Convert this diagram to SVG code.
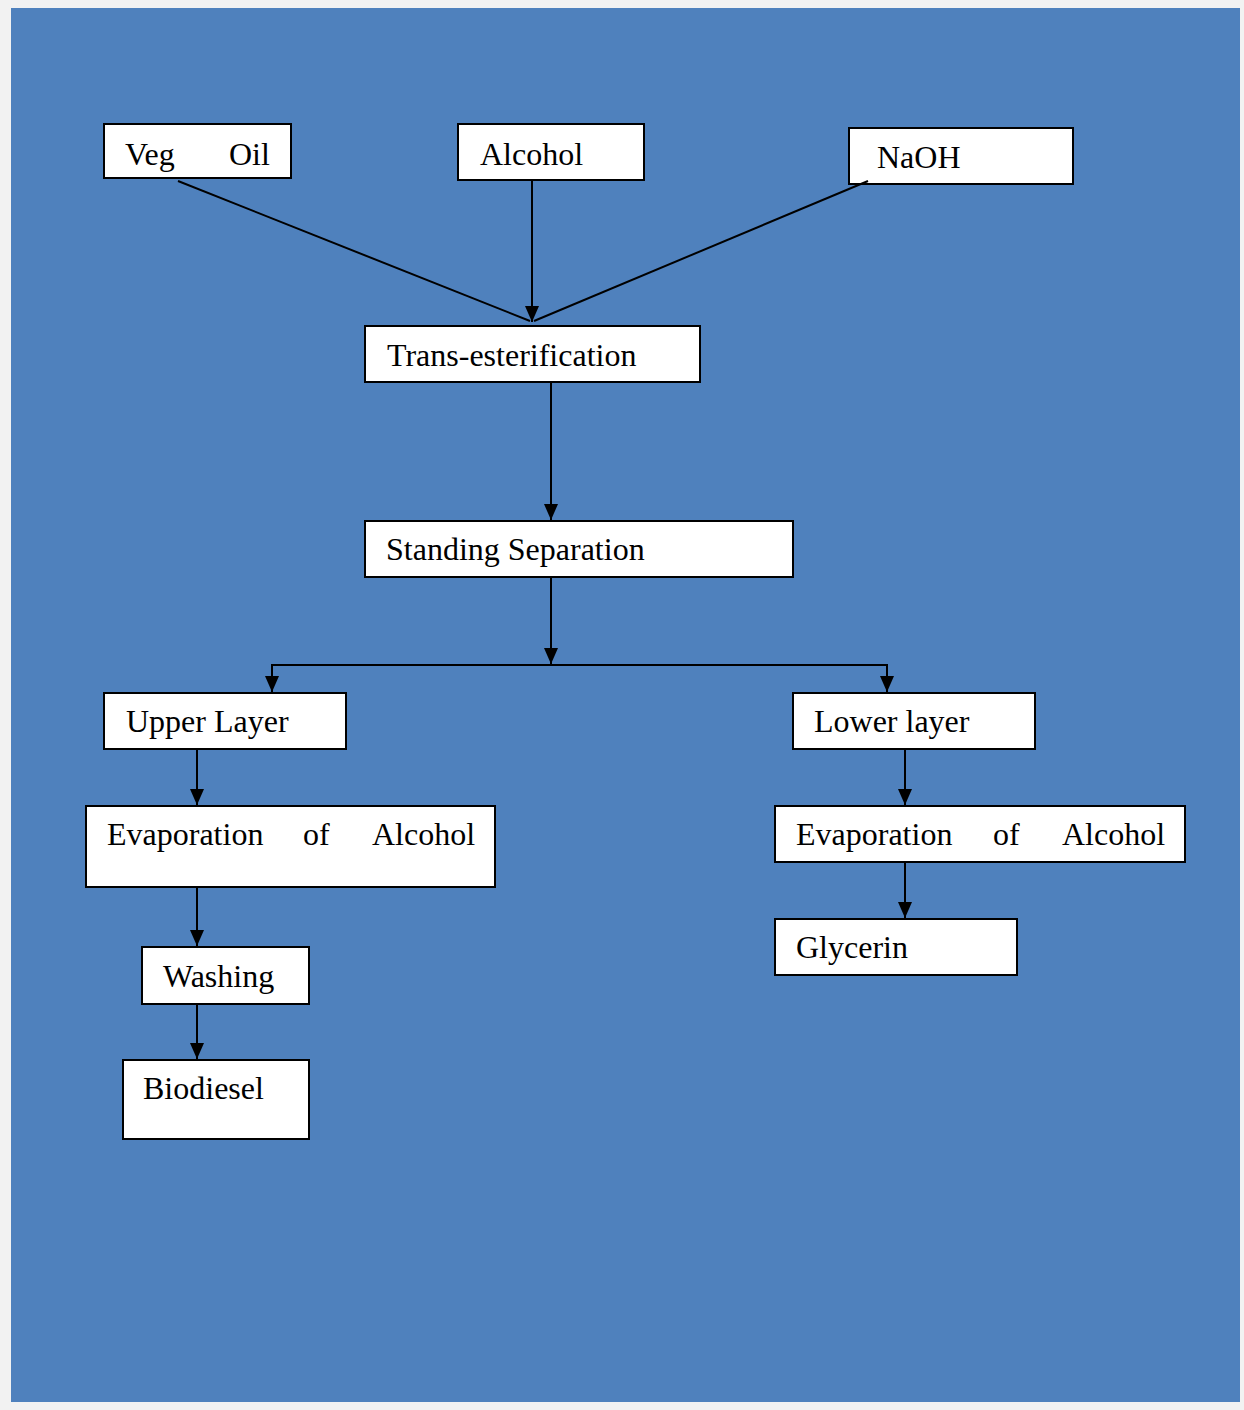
<svg xmlns="http://www.w3.org/2000/svg" width="1244" height="1410" viewBox="0 0 1244 1410">
<defs>
<style>
.box{fill:#ffffff;stroke:#000000;stroke-width:2}
.lbl{font-family:"Liberation Serif","Times New Roman",serif;font-size:32px;fill:#000000}
.ln{fill:none;stroke:#000000;stroke-width:2}
</style>
<marker id="ah" markerUnits="userSpaceOnUse" markerWidth="18" markerHeight="18" viewBox="0 0 18 18" refX="16" refY="9" orient="auto">
<path d="M0,2 L16,9 L0,16 Z" fill="#000000"/>
</marker>
</defs>
<rect x="0" y="0" width="1244" height="1410" fill="#f2f2f2"/>
<rect x="11" y="8" width="1229" height="1394" fill="#4f81bd"/>

<g id="veg-oil">
<rect class="box" x="104" y="124" width="187" height="54"/>
<text class="lbl" x="125" y="165">Veg</text>
<text class="lbl" x="229" y="165">Oil</text>
</g>
<g id="alcohol">
<rect class="box" x="458" y="124" width="186" height="56"/>
<text class="lbl" x="480" y="165">Alcohol</text>
</g>
<g id="naoh">
<rect class="box" x="849" y="128" width="224" height="56"/>
<text class="lbl" x="877" y="168">NaOH</text>
</g>
<g id="trans-esterification">
<rect class="box" x="365" y="326" width="335" height="56"/>
<text class="lbl" x="387" y="366">Trans-esterification</text>
</g>
<g id="standing-separation">
<rect class="box" x="365" y="521" width="428" height="56"/>
<text class="lbl" x="386" y="560">Standing Separation</text>
</g>
<g id="upper-layer">
<rect class="box" x="104" y="693" width="242" height="56"/>
<text class="lbl" x="126" y="732">Upper Layer</text>
</g>
<g id="evap-left">
<rect class="box" x="86" y="806" width="409" height="81"/>
<text class="lbl" x="107" y="845">Evaporation</text>
<text class="lbl" x="303" y="845">of</text>
<text class="lbl" x="372" y="845">Alcohol</text>
</g>
<g id="washing">
<rect class="box" x="142" y="947" width="167" height="57"/>
<text class="lbl" x="163" y="987">Washing</text>
</g>
<g id="biodiesel">
<rect class="box" x="123" y="1060" width="186" height="79"/>
<text class="lbl" x="143" y="1099">Biodiesel</text>
</g>
<g id="lower-layer">
<rect class="box" x="793" y="693" width="242" height="56"/>
<text class="lbl" x="814" y="732">Lower layer</text>
</g>
<g id="evap-right">
<rect class="box" x="775" y="806" width="410" height="56"/>
<text class="lbl" x="796" y="845">Evaporation</text>
<text class="lbl" x="993" y="845">of</text>
<text class="lbl" x="1062" y="845">Alcohol</text>
</g>
<g id="glycerin">
<rect class="box" x="775" y="919" width="242" height="56"/>
<text class="lbl" x="796" y="958">Glycerin</text>
</g>

<g id="connectors">
<line class="ln" x1="178" y1="181" x2="530" y2="321"/>
<line class="ln" x1="868" y1="181" x2="534" y2="321"/>
<line class="ln" x1="532" y1="181" x2="532" y2="322" marker-end="url(#ah)"/>
<line class="ln" x1="551" y1="383" x2="551" y2="520" marker-end="url(#ah)"/>
<line class="ln" x1="551" y1="578" x2="551" y2="664" marker-end="url(#ah)"/>
<polyline class="ln" points="272,680 272,665 887,665 887,680"/>
<line class="ln" x1="272" y1="665" x2="272" y2="692" marker-end="url(#ah)"/>
<line class="ln" x1="887" y1="665" x2="887" y2="692" marker-end="url(#ah)"/>
<line class="ln" x1="197" y1="750" x2="197" y2="805" marker-end="url(#ah)"/>
<line class="ln" x1="197" y1="888" x2="197" y2="946" marker-end="url(#ah)"/>
<line class="ln" x1="197" y1="1005" x2="197" y2="1059" marker-end="url(#ah)"/>
<line class="ln" x1="905" y1="750" x2="905" y2="805" marker-end="url(#ah)"/>
<line class="ln" x1="905" y1="863" x2="905" y2="918" marker-end="url(#ah)"/>
</g>
</svg>
